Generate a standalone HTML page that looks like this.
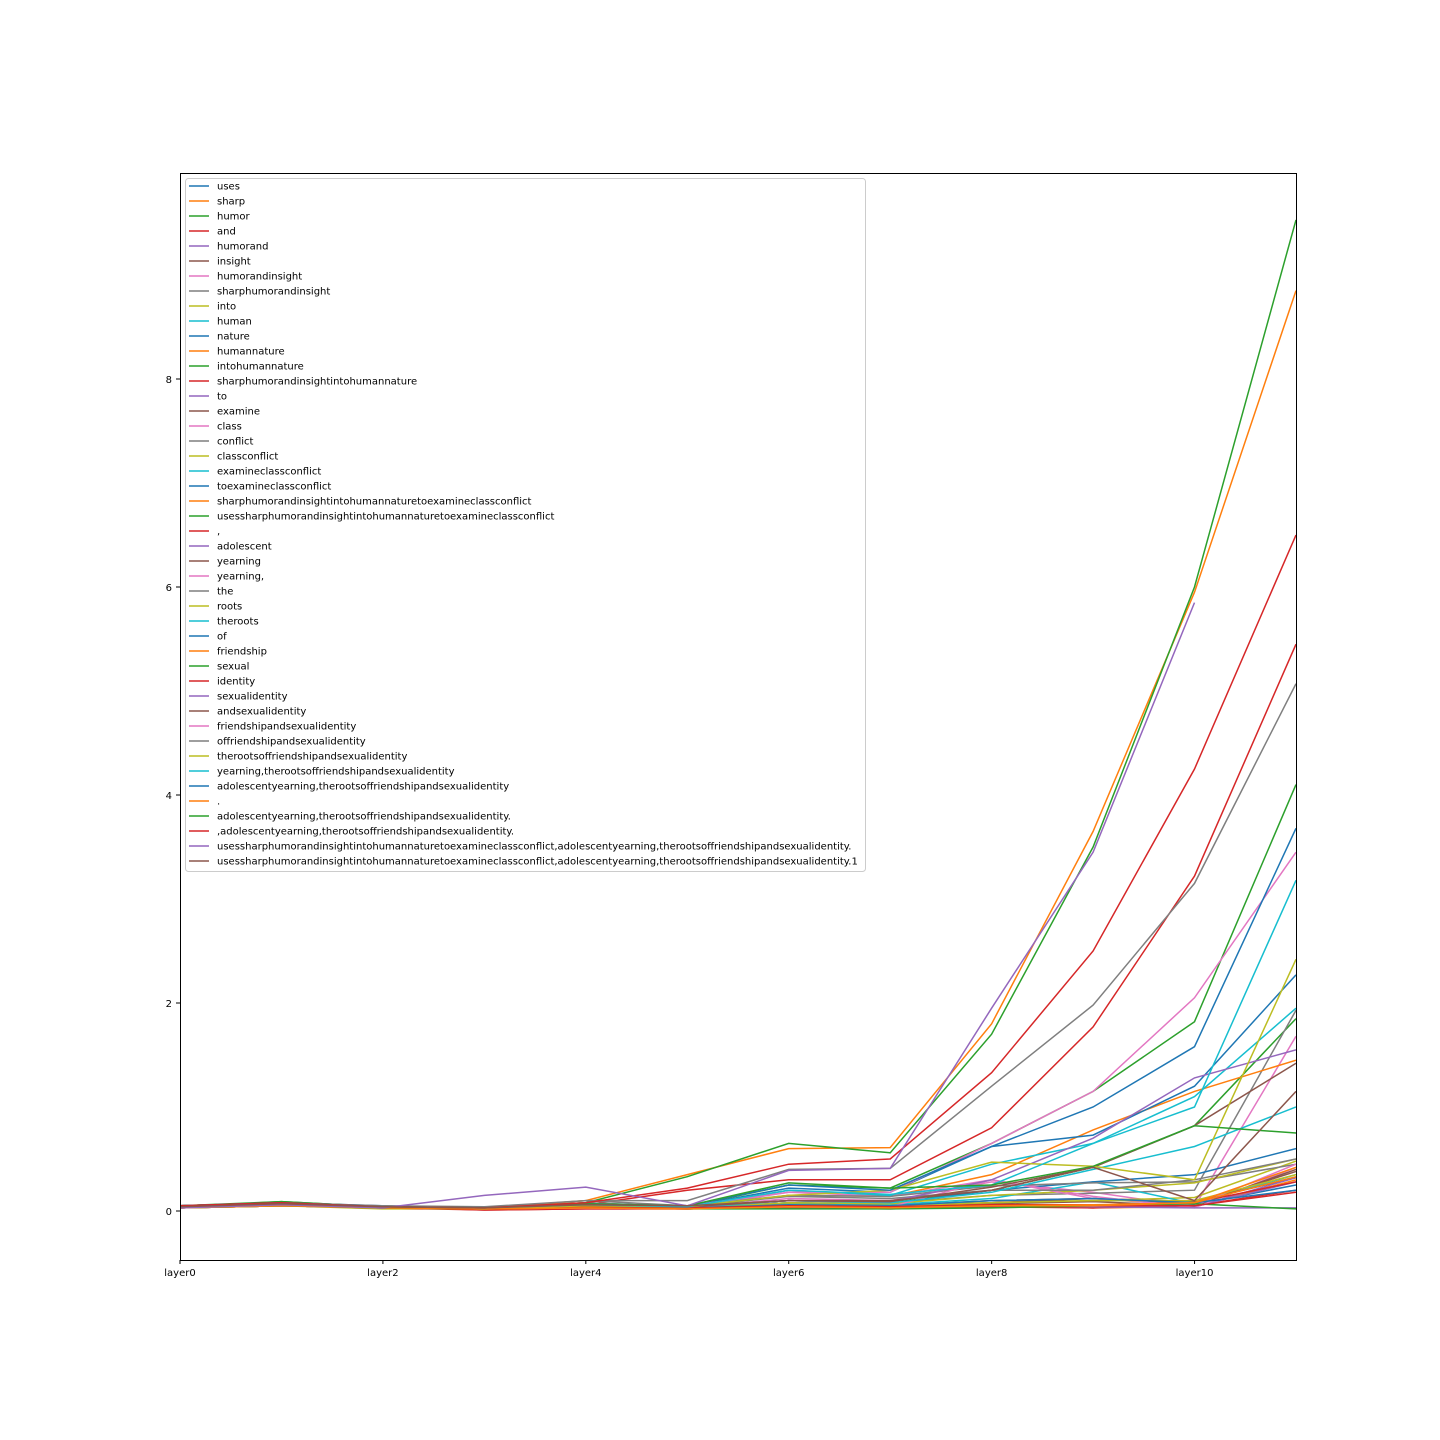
<!DOCTYPE html>
<html><head><meta charset="utf-8"><style>
body{margin:0;background:#fff;}
svg{display:block;font-family:"DejaVu Sans","Liberation Sans",sans-serif;}
</style></head><body>
<svg id="chart" width="1440" height="1440" xmlns="http://www.w3.org/2000/svg">
<defs><clipPath id="clip"><rect x="180" y="173" width="1116" height="1087"/></clipPath></defs>
<rect x="0" y="0" width="1440" height="1440" fill="#fff"/>
<g id="lines" clip-path="url(#clip)"></g>
<rect x="180.5" y="173.5" width="1116" height="1087" fill="none" stroke="#000" stroke-width="1"/>
<g id="xaxis"></g>
<g id="yaxis"></g>
<g id="legend"></g>
</svg>
<script>
const categories = ["layer0","layer1","layer2","layer3","layer4","layer5","layer6","layer7","layer8","layer9","layer10","layer11"];
const xTickLabels = ["layer0","layer2","layer4","layer6","layer8","layer10"];
const yTickValues = [0,2,4,6,8];
const seriesNames = ["uses","sharp","humor","and","humorand","insight","humorandinsight","sharphumorandinsight","into","human","nature","humannature","intohumannature","sharphumorandinsightintohumannature","to","examine","class","conflict","classconflict","examineclassconflict","toexamineclassconflict","sharphumorandinsightintohumannaturetoexamineclassconflict","usessharphumorandinsightintohumannaturetoexamineclassconflict",",","adolescent","yearning","yearning,","the","roots","theroots","of","friendship","sexual","identity","sexualidentity","andsexualidentity","friendshipandsexualidentity","offriendshipandsexualidentity","therootsoffriendshipandsexualidentity","yearning,therootsoffriendshipandsexualidentity","adolescentyearning,therootsoffriendshipandsexualidentity",".","adolescentyearning,therootsoffriendshipandsexualidentity.",",adolescentyearning,therootsoffriendshipandsexualidentity.","usessharphumorandinsightintohumannaturetoexamineclassconflict,adolescentyearning,therootsoffriendshipandsexualidentity.","usessharphumorandinsightintohumannaturetoexamineclassconflict,adolescentyearning,therootsoffriendshipandsexualidentity.1"];
const s0=[0.05,0.08,0.05,0.02,0.04,0.03,0.06,0.05,0.06,0.05,0.06,0.25];
const s1=[0.03,0.06,0.04,0.02,0.03,0.02,0.04,0.04,0.05,0.03,0.04,0.3];
const s2=[0.04,0.09,0.04,0.02,0.05,0.04,0.1,0.08,0.2,0.42,0.82,1.85];
const s3=[0.05,0.07,0.04,0.01,0.02,0.02,0.03,0.02,0.04,0.03,0.05,0.2];
const s4=[0.03,0.05,0.03,0.02,0.03,0.02,0.05,0.04,0.05,0.04,0.04,0.28];
const s5=[0.04,0.07,0.04,0.03,0.05,0.04,0.07,0.05,0.1,0.12,0.09,0.32];
const s6=[0.03,0.06,0.03,0.02,0.04,0.03,0.12,0.1,0.28,0.18,0.04,1.68];
const s7=[0.04,0.07,0.04,0.03,0.06,0.04,0.1,0.08,0.15,0.17,0.2,1.93];
const s8=[0.03,0.05,0.02,0.02,0.04,0.03,0.07,0.06,0.08,0.1,0.13,0.48];
const s9=[0.04,0.08,0.04,0.02,0.05,0.03,0.08,0.06,0.12,0.28,0.07,0.35];
const s10=[0.05,0.07,0.04,0.02,0.05,0.03,0.08,0.07,0.2,0.28,0.35,0.6];
const s11=[0.04,0.07,0.03,0.02,0.07,0.03,0.15,0.14,0.35,0.78,1.15,1.45];
const s12=[0.04,0.08,0.04,0.03,0.08,0.04,0.25,0.22,0.65,1.15,1.82,4.1];
const s13=[0.05,0.08,0.04,0.03,0.06,0.2,0.3,0.3,0.8,1.77,3.22,5.45];
const s14=[0.03,0.05,0.03,0.02,0.03,0.02,0.04,0.03,0.06,0.05,0.04,0.32];
const s15=[0.03,0.05,0.03,0.02,0.04,0.03,0.06,0.05,0.08,0.12,0.07,0.38];
const s16=[0.03,0.05,0.03,0.02,0.04,0.03,0.18,0.14,0.3,0.14,0.03,0.42];
const s17=[0.04,0.06,0.04,0.03,0.1,0.05,0.15,0.14,0.24,0.27,0.28,0.45];
const s18=[0.03,0.05,0.03,0.02,0.04,0.03,0.08,0.07,0.15,0.2,0.27,0.5];
const s19=[0.04,0.07,0.04,0.02,0.06,0.03,0.2,0.15,0.45,0.65,1.1,1.95];
const s20=[0.05,0.08,0.04,0.03,0.07,0.04,0.22,0.18,0.62,0.73,1.2,2.27];
const s21=[0.04,0.08,0.03,0.03,0.1,0.35,0.6,0.61,1.8,3.65,5.95,8.85];
const s22=[0.05,0.09,0.04,0.03,0.08,0.33,0.65,0.56,1.7,3.5,6.0,9.53];
const s23=[0.04,0.06,0.03,0.01,0.02,0.02,0.04,0.03,0.05,0.03,0.08,0.28];
const s24=[0.03,0.05,0.03,0.02,0.03,0.02,0.04,0.03,0.05,0.04,0.03,0.03];
const s25=[0.04,0.06,0.03,0.02,0.04,0.03,0.05,0.04,0.07,0.09,0.05,0.4];
const s26=[0.03,0.05,0.03,0.02,0.03,0.02,0.05,0.04,0.3,0.12,0.05,0.45];
const s27=[0.04,0.06,0.04,0.03,0.08,0.04,0.14,0.12,0.2,0.2,0.3,0.5];
const s28=[0.03,0.05,0.03,0.02,0.04,0.03,0.06,0.05,0.08,0.1,0.1,0.35];
const s29=[0.04,0.07,0.04,0.02,0.05,0.03,0.1,0.08,0.18,0.4,0.62,1.0];
const s30=[0.04,0.06,0.04,0.02,0.04,0.03,0.06,0.05,0.1,0.12,0.08,0.2];
const s31=[0.03,0.05,0.03,0.02,0.03,0.02,0.05,0.04,0.06,0.06,0.08,0.33];
const s32=[0.03,0.05,0.03,0.02,0.04,0.02,0.02,0.02,0.03,0.05,0.07,0.02];
const s33=[0.04,0.06,0.04,0.02,0.04,0.03,0.05,0.04,0.06,0.05,0.05,0.18];
const s34=[0.04,0.07,0.04,0.03,0.06,0.04,0.1,0.09,0.3,0.7,1.28,1.55];
const s35=[0.04,0.07,0.04,0.03,0.07,0.04,0.1,0.09,0.23,0.42,0.82,1.42];
const s36=[0.04,0.07,0.04,0.03,0.07,0.05,0.18,0.18,0.65,1.15,2.05,3.45];
const s37=[0.05,0.08,0.05,0.04,0.1,0.1,0.4,0.41,1.2,1.98,3.15,5.07];
const s38=[0.04,0.06,0.04,0.02,0.05,0.04,0.15,0.2,0.47,0.43,0.3,2.42];
const s39=[0.04,0.07,0.04,0.03,0.06,0.04,0.2,0.16,0.25,0.65,1.0,3.18];
const s40=[0.05,0.08,0.04,0.03,0.07,0.05,0.25,0.2,0.62,1.0,1.58,3.68];
const s41=[0.03,0.05,0.03,0.02,0.03,0.02,0.04,0.03,0.05,0.05,0.08,0.42];
const s42=[0.04,0.07,0.04,0.03,0.07,0.05,0.27,0.22,0.25,0.43,0.82,0.75];
const s43=[0.05,0.08,0.04,0.03,0.08,0.22,0.45,0.5,1.33,2.5,4.25,6.5];
const s44=[0.03,0.06,0.03,0.15,0.23,0.05,0.39,0.41,1.95,3.45,5.85,null];
const s45=[0.04,0.07,0.04,0.03,0.06,0.05,0.1,0.1,0.2,0.42,0.1,1.15];
const seriesValues=[s0,s1,s2,s3,s4,s5,s6,s7,s8,s9,s10,s11,s12,s13,s14,s15,s16,s17,s18,s19,s20,s21,s22,s23,s24,s25,s26,s27,s28,s29,s30,s31,s32,s33,s34,s35,s36,s37,s38,s39,s40,s41,s42,s43,s44,s45];
const palette=["#1f77b4","#ff7f0e","#2ca02c","#d62728","#9467bd","#8c564b","#e377c2","#7f7f7f","#bcbd22","#17becf"];
const NS="http://www.w3.org/2000/svg";
function xScale(i){return 180+i*(1116/11);}
function yScale(v){return 1211-v*104;}
const lines=document.getElementById('lines');
seriesValues.forEach((vals,k)=>{
  let d="",pen=false;
  vals.forEach((v,i)=>{ if(v===null){pen=false;return;} d+=(pen?"L":"M")+xScale(i).toFixed(1)+","+yScale(v).toFixed(1); pen=true;});
  const p=document.createElementNS(NS,'path');
  p.setAttribute('d',d);p.setAttribute('fill','none');p.setAttribute('stroke',palette[k%10]);p.setAttribute('stroke-width','1.5');
  
  
  lines.appendChild(p);
});
const xa=document.getElementById('xaxis');
xTickLabels.forEach((lab,j)=>{
  const x=xScale(categories.indexOf(lab));
  const t=document.createElementNS(NS,'line');
  t.setAttribute('x1',x);t.setAttribute('x2',x);t.setAttribute('y1',1260);t.setAttribute('y2',1264);t.setAttribute('stroke','#000');
  
  
  xa.appendChild(t);
  const tx=document.createElementNS(NS,'text');
  tx.setAttribute('x',x);tx.setAttribute('y',1276);tx.setAttribute('text-anchor','middle');tx.setAttribute('font-size','10');
  tx.textContent=lab;
  
  
  xa.appendChild(tx);
});
const ya=document.getElementById('yaxis');
yTickValues.forEach(v=>{
  const y=yScale(v);
  const t=document.createElementNS(NS,'line');
  t.setAttribute('x1',176);t.setAttribute('x2',180);t.setAttribute('y1',y);t.setAttribute('y2',y);t.setAttribute('stroke','#000');
  
  
  ya.appendChild(t);
  const tx=document.createElementNS(NS,'text');
  tx.setAttribute('x',172);tx.setAttribute('y',y+4);tx.setAttribute('text-anchor','end');tx.setAttribute('font-size','10');
  tx.textContent=v;
  
  
  ya.appendChild(tx);
});
const lg=document.getElementById('legend');
const box=document.createElementNS(NS,'rect');
box.setAttribute('x',185.5);box.setAttribute('y',178.5);box.setAttribute('width',680);box.setAttribute('height',693);box.setAttribute('rx',3);
box.setAttribute('fill','#fff');box.setAttribute('fill-opacity','0.8');box.setAttribute('stroke','#ccc');


lg.appendChild(box);
seriesNames.forEach((n,k)=>{
  const y=186+k*15;
  const l=document.createElementNS(NS,'line');
  l.setAttribute('x1',189);l.setAttribute('x2',209);l.setAttribute('y1',y);l.setAttribute('y2',y);l.setAttribute('stroke',palette[k%10]);l.setAttribute('stroke-width','1.5');
  
  
  lg.appendChild(l);
  const t=document.createElementNS(NS,'text');
  t.setAttribute('x',217);t.setAttribute('y',y+3.5);t.setAttribute('font-size','10');
  t.textContent=n;
  
  
  lg.appendChild(t);
});
</script>
</body></html>
